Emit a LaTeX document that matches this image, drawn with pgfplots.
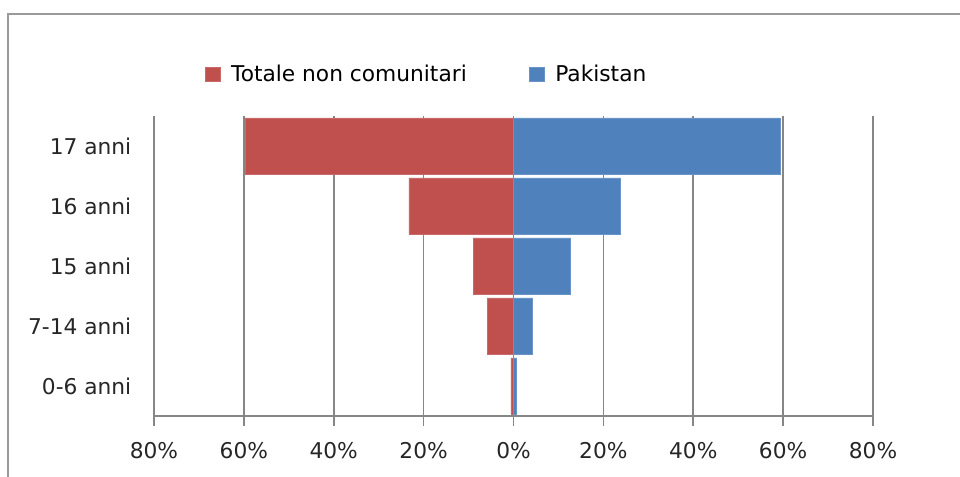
\documentclass[border=0pt]{standalone}
\usepackage{pgfplots}
\pgfplotsset{compat=1.18}
\usepackage{fontspec}
\setmainfont{DejaVu Sans}
\definecolor{cred}{HTML}{C0504D}
\definecolor{cblue}{HTML}{4F81BD}
\definecolor{gridg}{HTML}{868686}
\definecolor{frameg}{HTML}{9A9A9A}
\begin{document}
\begin{tikzpicture}
\useasboundingbox (0pt,0pt) rectangle (720pt,357.75pt);
\draw[frameg, line width=1.5pt] (6pt,-2pt) -- (6pt,347.25pt) -- (722pt,347.25pt);
\begin{axis}[
  at={(115.5pt,45.75pt)}, anchor=south west,
  width=539.25pt, height=225pt, scale only axis,
  xmin=-80, xmax=80, ymin=-0.5, ymax=4.5,
  xtick={-80,-60,...,80},
  xticklabels={80\%,60\%,40\%,20\%,0\%,20\%,40\%,60\%,80\%},
  ytick={0,1,2,3,4},
  yticklabels={0-6 anni,7-14 anni,15 anni,16 anni,17 anni},
  xmajorgrids, grid style={gridg, line width=1.2pt},
  axis x line*=bottom, axis y line*=left,
  axis line style={gridg, line width=1.2pt, -},
  x tick style={gridg, line width=1.2pt},
  tick align=outside, major tick length=7.5pt,
  y tick style={draw=none},
  ticklabel style={font=\fontsize{16.3}{19}\selectfont, text=black!85},
  xticklabel style={yshift=-9pt},
  yticklabel style={xshift=-6pt},
  xbar, bar width=42pt, bar shift=0pt,
  legend style={at={(0.071,1.14)}, anchor=west, draw=none, fill=none,
    legend columns=2, inner sep=0pt, font=\fontsize{16.3}{19}\selectfont,
    /tikz/every odd column/.append style={column sep=6pt},
    /tikz/every even column/.append style={column sep=45pt}},
  legend image code/.code={\fill[#1] (0pt,-5.25pt) rectangle (11pt,5.25pt);},
]
\addplot[fill=cred, draw=cred!85!white] coordinates {(-59.8,4) (-23.3,3) (-9.0,2) (-5.8,1) (-0.6,0)};
\addlegendentry{Totale non comunitari}
\addplot[fill=cblue, draw=cblue!85!white] coordinates {(59.3,4) (23.8,3) (12.7,2) (4.2,1) (0.7,0)};
\addlegendentry{Pakistan}
\end{axis}
\end{tikzpicture}
\end{document}
